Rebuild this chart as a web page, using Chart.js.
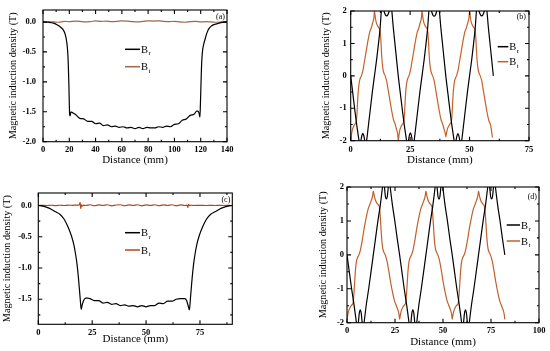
<!DOCTYPE html>
<html><head><meta charset="utf-8">
<script src="https://cdn.jsdelivr.net/npm/chart.js@4.4.0/dist/chart.umd.min.js"></script>
<style>
html,body{margin:0;padding:0;background:#fff;}
#wrap{position:relative;width:550px;height:351px;overflow:hidden;background:#fff;}
.p{position:absolute;}
</style></head><body>
<div id="wrap">
<div class="p" style="left:0;top:0"><canvas id="ca" width="275" height="175"></canvas></div>
<div class="p" style="left:275px;top:0"><canvas id="cb" width="275" height="175"></canvas></div>
<div class="p" style="left:0;top:175px"><canvas id="cc" width="275" height="176"></canvas></div>
<div class="p" style="left:275px;top:175px"><canvas id="cd" width="275" height="176"></canvas></div>
</div>
<script>
// ---------- tick labels ----------
const aXTicks = [0,20,40,60,80,100,120,140];
const aYTicks = [-2.0,-1.5,-1.0,-0.5,0.0];
const bXTicks = [0,25,50,75];
const bYTicks = [-2,-1,0,1,2];
const cXTicks = [0,25,50,75];
const cYTicks = [-1.5,-1.0,-0.5,0.0];
const dXTicks = [0,25,50,75,100];
const dYTicks = [-2,-1,0,1,2];
const seriesSubs = ['r','t'];
const xTitleText = 'Distance (mm)';
const yTitleText = 'Magnetic induction density (T)';
const panelTags = ['(a)','(b)','(c)','(d)'];

// ---------- (a) ----------
const aBrX = [0,4,8,11,13,15,16.5,17.5,18.2,18.8,19.3,19.7,20,20.3,20.6,21.3,22,25,28,31,34,37,40,43,46,49,52,55,58,61,64,67,70,73,76,79,82,85,88,91,94,97,100,103,106,109,112,115,117,118,118.8,119.4,119.8,120.2,120.6,121.2,122.2,123.4,124.6,126,128,130,134,137,140];
const aBrY = [0,-0.005,-0.02,-0.05,-0.08,-0.12,-0.18,-0.26,-0.36,-0.5,-0.75,-1.05,-1.35,-1.55,-1.57,-1.5,-1.51,-1.55,-1.61,-1.62,-1.66,-1.66,-1.7,-1.69,-1.73,-1.72,-1.75,-1.74,-1.76,-1.75,-1.77,-1.76,-1.78,-1.76,-1.78,-1.76,-1.77,-1.77,-1.75,-1.76,-1.74,-1.75,-1.71,-1.7,-1.64,-1.62,-1.56,-1.54,-1.49,-1.49,-1.53,-1.59,-1.35,-1.05,-0.75,-0.52,-0.38,-0.28,-0.19,-0.12,-0.07,-0.045,-0.02,-0.008,0];
const aBtX = [0,4,8,12,16,20,24,28,32,36,40,44,48,52,56,60,64,68,72,76,80,84,88,92,96,100,104,108,112,116,120,124,128,132,136,140];
const aBtY = [0,0.005,0,-0.005,0.01,0.005,0.015,0.01,0.0,0.005,0.02,0.01,0.015,0.005,0.01,0.02,0.015,0.005,0.0,0.01,0.02,0.015,0.02,0.01,0.005,0.01,0.0,-0.005,0.005,0.01,0.0,0.005,0.0,-0.005,0.0,0.005];

// ---------- (b) ----------
const bBrX = [0,0.9,1.8,2.6,3.5,3.9,4.3,4.7,5.1,5.5,5.9,6.3,6.7,7.5,8.3,9.1,10,10.9,11.7,12.4,12.9,13.4,14,14.6,15.1,15.6,16.2,16.8,17.3,17.9,18.6,19.3,
20,20.9,21.8,22.6,23.5,23.9,24.3,24.7,25.1,25.5,25.9,26.3,26.7,27.5,28.3,29.1,30,30.9,31.7,32.4,32.9,33.4,34,34.6,35.1,35.6,36.2,36.8,37.3,37.9,38.6,39.3,
40,40.9,41.8,42.6,43.5,43.9,44.3,44.7,45.1,45.5,45.9,46.3,46.7,47.5,48.3,49.1,50,50.9,51.7,52.4,52.9,53.4,54,54.6,55.1,55.6,56.2,56.8,57.3,57.9,58.6,59.3,60];
const bBrY = [0,-0.55,-1.1,-1.55,-2.0,-2.2,-2.0,-1.84,-1.77,-1.84,-2.0,-2.2,-2.0,-1.5,-1.0,-0.5,0,0.5,1.0,1.5,2.0,2.25,2.0,1.88,1.85,1.88,2.0,2.25,2.0,1.5,1.0,0.5,
0,-0.55,-1.1,-1.55,-2.0,-2.2,-2.0,-1.83,-1.76,-1.83,-2.0,-2.2,-2.0,-1.5,-1.0,-0.5,0,0.5,1.0,1.5,2.0,2.25,2.0,1.87,1.84,1.87,2.0,2.25,2.0,1.5,1.0,0.5,
0,-0.55,-1.1,-1.55,-2.0,-2.2,-2.0,-1.85,-1.78,-1.85,-2.0,-2.2,-2.0,-1.5,-1.0,-0.5,0,0.5,1.0,1.5,2.0,2.25,2.0,1.88,1.85,1.88,2.0,2.25,2.0,1.5,1.0,0.5,0];
const bBtX = [0,0.35,0.7,1.15,1.6,2.05,2.35,2.65,2.9,3.2,3.6,4.0,4.5,5.1,5.8,6.6,7.3,8.0,8.4,8.75,9.1,9.5,9.8,10,10.35,10.7,11.15,11.6,12.05,12.35,12.65,12.9,13.2,13.6,14.0,14.5,15.1,15.8,16.6,17.3,18.0,18.4,18.75,19.1,19.5,19.8,
20,20.35,20.7,21.15,21.6,22.05,22.35,22.65,22.9,23.2,23.6,24.0,24.5,25.1,25.8,26.6,27.3,28.0,28.4,28.75,29.1,29.5,29.8,30,30.35,30.7,31.15,31.6,32.05,32.35,32.65,32.9,33.2,33.6,34.0,34.5,35.1,35.8,36.6,37.3,38.0,38.4,38.75,39.1,39.5,39.8,
40,40.35,40.7,41.15,41.6,42.05,42.35,42.65,42.9,43.2,43.6,44.0,44.5,45.1,45.8,46.6,47.3,48.0,48.4,48.75,49.1,49.5,49.8,50,50.35,50.7,51.15,51.6,52.05,52.35,52.65,52.9,53.2,53.6,54.0,54.5,55.1,55.8,56.6,57.3,58.0,58.4,58.75,59.1,59.6];
const bBtY = [-2.0,-1.8,-1.66,-1.57,-1.51,-1.46,-1.4,-1.15,-0.8,-0.45,-0.2,-0.08,0,0.15,0.45,0.8,1.1,1.35,1.43,1.5,1.6,1.7,1.82,2.0,1.8,1.66,1.57,1.51,1.46,1.4,1.15,0.8,0.45,0.2,0.08,0,-0.15,-0.45,-0.8,-1.1,-1.35,-1.43,-1.5,-1.6,-1.7,-1.82,
-2.0,-1.8,-1.66,-1.57,-1.51,-1.46,-1.4,-1.15,-0.8,-0.45,-0.2,-0.08,0,0.15,0.45,0.8,1.1,1.35,1.43,1.5,1.6,1.7,1.82,2.0,1.8,1.66,1.57,1.51,1.46,1.4,1.15,0.8,0.45,0.2,0.08,0,-0.15,-0.45,-0.8,-1.1,-1.35,-1.43,-1.5,-1.6,-1.7,-1.78,
-1.88,-1.74,-1.63,-1.56,-1.5,-1.45,-1.4,-1.15,-0.8,-0.45,-0.2,-0.08,0,0.15,0.45,0.8,1.1,1.35,1.43,1.5,1.6,1.7,1.82,2.0,1.8,1.66,1.57,1.51,1.46,1.4,1.15,0.8,0.45,0.2,0.08,0,-0.15,-0.45,-0.8,-1.1,-1.35,-1.43,-1.5,-1.62,-1.9];

// ---------- (c) ----------
const cBrX = [0,2,4,6,8,10,12,14,15.5,16.5,17.3,18,18.6,19.1,19.5,19.9,20.3,21,22,23,24,26,28,30,32,34,36,38,40,42,44,46,48,50,52,54,56,58,60,62,64,66,67,68,68.8,69.5,70.1,70.5,70.9,71.4,72,72.7,73.5,74.5,76,78,80,82,84,86,88,90];
const cBrY = [0,-0.01,-0.03,-0.06,-0.1,-0.14,-0.22,-0.36,-0.5,-0.63,-0.78,-0.95,-1.15,-1.35,-1.52,-1.66,-1.6,-1.52,-1.48,-1.48,-1.49,-1.52,-1.52,-1.56,-1.55,-1.58,-1.57,-1.6,-1.59,-1.61,-1.6,-1.62,-1.6,-1.62,-1.6,-1.6,-1.56,-1.57,-1.53,-1.53,-1.5,-1.49,-1.49,-1.49,-1.52,-1.6,-1.67,-1.52,-1.35,-1.15,-0.95,-0.78,-0.63,-0.5,-0.36,-0.22,-0.14,-0.1,-0.06,-0.03,-0.01,0];
const cBtX = [0,2,4,6,8,10,12,14,16,18,19,19.4,19.7,20,20.4,21,22,24,26,28,30,32,34,36,38,40,42,44,46,48,50,52,54,56,58,60,62,64,66,68,69,69.4,69.7,70,71,72,74,76,78,80,82,84,86,88,90];
const cBtY = [0,0.002,0,0.004,-0.002,0.004,0,0.005,0.003,0.006,0.01,0.05,-0.05,0.01,-0.01,0.006,0.0,0.012,-0.004,0.01,0.0,0.012,-0.005,0.008,0.012,-0.004,0.01,0.0,0.012,-0.005,0.01,0.0,0.012,-0.004,0.01,0.0,0.012,-0.005,0.01,0.0,0.005,-0.03,0.02,0,0.004,0,0.003,0.002,0,0.002,0,0.001,0,0.001,0];

// ---------- (d) ----------
const dBrX = [0,1.2,2.4,3.6,4.9,5.4,5.9,6.4,6.9,7.4,7.9,8.4,8.9,10.1,11.3,12.5,13.7,14.9,16.1,17.3,18.5,19.0,19.5,20.0,20.5,21.0,21.5,22.0,22.5,23.7,24.9,26.1,
27.4,28.6,29.8,31.0,32.3,32.8,33.3,33.8,34.3,34.8,35.3,35.8,36.3,37.5,38.7,39.9,41.1,42.3,43.5,44.7,45.9,46.4,46.9,47.4,47.9,48.4,48.9,49.4,49.9,51.1,52.3,53.5,
54.8,56.0,57.2,58.4,59.7,60.2,60.7,61.2,61.7,62.2,62.7,63.2,63.7,64.9,66.1,67.3,68.5,69.7,70.9,72.1,73.3,73.8,74.3,74.8,75.3,75.8,76.3,76.8,77.3,78.5,79.7,80.9,82.2];
const dBrY = [0,-0.5,-1.0,-1.45,-2.0,-2.25,-2.0,-1.72,-1.62,-1.72,-2.0,-2.25,-2.0,-1.45,-1.0,-0.5,0,0.5,1.0,1.45,2.0,2.25,2.0,1.72,1.65,1.72,2.0,2.25,2.0,1.45,1.0,0.5,
0,-0.5,-1.0,-1.45,-2.0,-2.25,-2.0,-1.72,-1.62,-1.72,-2.0,-2.25,-2.0,-1.45,-1.0,-0.5,0,0.5,1.0,1.45,2.0,2.25,2.0,1.72,1.64,1.72,2.0,2.25,2.0,1.45,1.0,0.5,
0,-0.5,-1.0,-1.45,-2.0,-2.25,-2.0,-1.72,-1.62,-1.72,-2.0,-2.25,-2.0,-1.45,-1.0,-0.5,0,0.5,1.0,1.45,2.0,2.25,2.0,1.72,1.65,1.72,2.0,2.25,2.0,1.45,1.0,0.5,0];
const dBtX = [0,0.5,1,1.6,2.2,2.8,3.2,3.6,4.0,4.4,4.9,5.5,6.2,7,8,9,10,11,11.5,12,12.5,13,13.4,13.7,14.2,14.7,15.3,15.9,16.5,16.9,17.3,17.7,18.1,18.6,19.2,19.9,20.7,21.7,22.7,23.7,24.7,25.2,25.7,26.2,26.7,27.1,
27.4,27.9,28.4,29.0,29.6,30.2,30.6,31.0,31.4,31.8,32.3,32.9,33.6,34.4,35.4,36.4,37.4,38.4,38.9,39.4,39.9,40.4,40.8,41.1,41.6,42.1,42.7,43.3,43.9,44.3,44.7,45.1,45.5,46.0,46.6,47.3,48.1,49.1,50.1,51.1,52.1,52.6,53.1,53.6,54.1,54.5,
54.8,55.3,55.8,56.4,57.0,57.6,58.0,58.4,58.8,59.2,59.7,60.3,61.0,61.8,62.8,63.8,64.8,65.8,66.3,66.8,67.3,67.8,68.2,68.5,69.0,69.5,70.1,70.7,71.3,71.7,72.1,72.5,72.9,73.4,74.0,74.7,75.5,76.5,77.5,78.5,79.5,80.0,80.5,81.0,81.5,81.9,82.2];
const dBtY = [-1.9,-1.74,-1.63,-1.55,-1.5,-1.46,-1.4,-1.15,-0.8,-0.45,-0.2,-0.08,0,0.15,0.45,0.8,1.1,1.35,1.43,1.5,1.58,1.66,1.76,1.88,1.74,1.63,1.55,1.5,1.46,1.4,1.15,0.8,0.45,0.2,0.08,0,-0.15,-0.45,-0.8,-1.1,-1.35,-1.43,-1.5,-1.58,-1.66,-1.76,
-1.9,-1.74,-1.63,-1.55,-1.5,-1.46,-1.4,-1.15,-0.8,-0.45,-0.2,-0.08,0,0.15,0.45,0.8,1.1,1.35,1.43,1.5,1.58,1.66,1.76,1.88,1.74,1.63,1.55,1.5,1.46,1.4,1.15,0.8,0.45,0.2,0.08,0,-0.15,-0.45,-0.8,-1.1,-1.35,-1.43,-1.5,-1.58,-1.66,-1.76,
-1.9,-1.74,-1.63,-1.55,-1.5,-1.46,-1.4,-1.15,-0.8,-0.45,-0.2,-0.08,0,0.15,0.45,0.8,1.1,1.35,1.43,1.5,1.58,1.66,1.76,1.88,1.74,1.63,1.55,1.5,1.46,1.4,1.15,0.8,0.45,0.2,0.08,0,-0.15,-0.45,-0.8,-1.1,-1.35,-1.43,-1.5,-1.58,-1.66,-1.76,-1.9];

// ---------- drawing ----------
const FONT = '"Liberation Serif","Times New Roman",serif';
const pts = (xs, ys) => xs.map((x, i) => ({x: x, y: ys[i]}));

const framePlugin = {
  id: 'frame',
  afterDatasetsDraw(chart, args, o) {
    const {ctx, chartArea: ca, scales: {x, y}} = chart;
    ctx.save();
    ctx.strokeStyle = '#000';
    ctx.lineWidth = 1.1;
    ctx.strokeRect(ca.left, ca.top, ca.right - ca.left, ca.bottom - ca.top);
    const minors = (maj, mn, mx) => {
      const st = maj[1] - maj[0], out = [];
      for (let v = maj[0] - st / 2; v >= mn - 1e-9; v -= st) out.push(v);
      for (let i = 0; i < maj.length - 1; i++) out.push((maj[i] + maj[i + 1]) / 2);
      for (let v = maj[maj.length - 1] + st / 2; v <= mx + 1e-9; v += st) out.push(v);
      return out;
    };
    ctx.beginPath();
    const tx = (v, L) => { const p = x.getPixelForValue(v); ctx.moveTo(p, ca.bottom); ctx.lineTo(p, ca.bottom - L); ctx.moveTo(p, ca.top); ctx.lineTo(p, ca.top + L); };
    const ty = (v, L) => { const p = y.getPixelForValue(v); ctx.moveTo(ca.left, p); ctx.lineTo(ca.left + L, p); ctx.moveTo(ca.right, p); ctx.lineTo(ca.right - L, p); };
    o.xT.forEach(v => tx(v, 4));
    minors(o.xT, x.min, x.max).forEach(v => tx(v, 2));
    o.yT.forEach(v => ty(v, 4));
    minors(o.yT, y.min, y.max).forEach(v => ty(v, 2));
    ctx.stroke();
    ctx.restore();
  }
};

const legendPlugin = {
  id: 'subLegend',
  afterDraw(chart, args, o) {
    const {ctx, chartArea: ca} = chart;
    ctx.save();
    chart.data.datasets.forEach((ds, i) => {
      const yy = ca.top + o.dy + i * o.gap;
      const x0 = ca.left + o.dx;
      ctx.strokeStyle = ds.borderColor; ctx.lineWidth = 1.5;
      ctx.beginPath(); ctx.moveTo(x0, yy); ctx.lineTo(x0 + o.len, yy); ctx.stroke();
      ctx.fillStyle = '#000'; ctx.textAlign = 'left'; ctx.textBaseline = 'middle';
      ctx.font = '10.5px ' + FONT;
      ctx.fillText('B', x0 + o.len + 1, yy + 1);
      const w = ctx.measureText('B').width;
      ctx.font = '7px ' + FONT;
      ctx.fillText(seriesSubs[i], x0 + o.len + 1.5 + w, yy + 4);
    });
    ctx.font = '8px ' + FONT; ctx.textAlign = 'right'; ctx.textBaseline = 'middle'; ctx.fillStyle = '#000';
    ctx.fillText(o.tag, ca.right + o.tagDx, ca.top + o.tagDy);
    ctx.restore();
  }
};

function fmt(dec) {
  return v => (v < 0 ? '-' : '') + Math.abs(v).toFixed(dec);
}

function makeChart(p) {
  const tickFont = {family: FONT, size: 8.5, weight: 'bold'};
  return new Chart(document.getElementById(p.id), {
    type: 'line',
    data: {datasets: p.sets.map(s => ({
      label: s.label, data: s.data, borderColor: s.color, borderWidth: 1.2,
      pointRadius: 0, cubicInterpolationMode: 'monotone', clip: 0, fill: false
    }))},
    options: {
      responsive: false, animation: false, devicePixelRatio: 1,
      layout: {padding: {left: 0, top: p.padTop, right: p.padRight, bottom: 0}},
      plugins: {
        legend: {display: false}, tooltip: {enabled: false},
        frame: {xT: p.xT, yT: p.yT},
        subLegend: p.leg
      },
      scales: {
        x: {
          type: 'linear', min: p.xr[0], max: p.xr[1],
          grid: {display: false, drawTicks: false, tickLength: 0}, border: {display: false},
          ticks: {font: tickFont, color: '#000', padding: p.xTick, maxRotation: 0, autoSkip: false,
                  callback: v => String(v)},
          title: {display: true, text: xTitleText, color: '#000', font: {family: FONT, size: 11},
                  padding: {top: 0, bottom: p.xTitle}},
          afterBuildTicks: s => { s.ticks = p.xT.map(v => ({value: v})); },
          afterFit: s => { s.height = p.xH; s.paddingLeft = 0; s.paddingRight = 0; s.paddingTop = 0; s.paddingBottom = 0; }
        },
        y: {
          type: 'linear', min: p.yr[0], max: p.yr[1],
          grid: {display: false, drawTicks: false, tickLength: 0}, border: {display: false},
          ticks: {font: tickFont, color: '#000', padding: p.yTick, autoSkip: false, callback: fmt(p.dec)},
          title: {display: true, text: yTitleText, color: '#000', font: {family: FONT, size: 10.2},
                  padding: {top: p.yTitle, bottom: 0}},
          afterBuildTicks: s => { s.ticks = p.yT.map(v => ({value: v})); },
          afterFit: s => { s.width = p.yW; s.paddingLeft = 0; s.paddingRight = 0; s.paddingTop = 0; s.paddingBottom = 0; }
        }
      }
    },
    plugins: [framePlugin, legendPlugin]
  });
}

makeChart({id: 'ca', xr: [0, 140], yr: [-2, 0.2], xT: aXTicks, yT: aYTicks, dec: 1,
  padTop: 10, padRight: 48, yW: 43, xH: 33.3, yTick: 7, xTick: 3, yTitle: 7, xTitle: 8.4,
  sets: [{label: 'Br', data: pts(aBrX, aBrY), color: '#000000'},
         {label: 'Bt', data: pts(aBtX, aBtY), color: '#a0664a'}],
  leg: {dx: 82, dy: 39.3, gap: 17.4, len: 15, tag: panelTags[0], tagDx: -2, tagDy: 6.7}});

makeChart({id: 'cb', xr: [0, 75], yr: [-2, 2], xT: bXTicks, yT: bYTicks, dec: 0,
  padTop: 11, padRight: 21, yW: 75.7, xH: 34.3, yTick: 4, xTick: 3.7, yTitle: 45, xTitle: 8.4,
  sets: [{label: 'Br', data: pts(bBrX, bBrY), color: '#000000'},
         {label: 'Bt', data: pts(bBtX, bBtY), color: '#c4622a'}],
  leg: {dx: 147, dy: 35.7, gap: 15, len: 10.6, tag: panelTags[1], tagDx: -3, tagDy: 5.7}});

makeChart({id: 'cc', xr: [0, 90], yr: [-1.9, 0.2], xT: cXTicks, yT: cYTicks, dec: 1,
  padTop: 18, padRight: 42.7, yW: 38.3, xH: 26.7, yTick: 6.6, xTick: 3, yTitle: 1.5, xTitle: 5.5,
  sets: [{label: 'Br', data: pts(cBrX, cBrY), color: '#000000'},
         {label: 'Bt', data: pts(cBtX, cBtY), color: '#b4461e'}],
  leg: {dx: 86.7, dy: 39.7, gap: 17.3, len: 15, tag: panelTags[2], tagDx: -2, tagDy: 7}});

makeChart({id: 'cd', xr: [0, 100], yr: [-2, 2], xT: dXTicks, yT: dYTicks, dec: 0,
  padTop: 12, padRight: 11, yW: 72, xH: 28.3, yTick: 3, xTick: 3.3, yTitle: 42, xTitle: 2.4,
  sets: [{label: 'Br', data: pts(dBrX, dBrY), color: '#000000'},
         {label: 'Bt', data: pts(dBtX, dBtY), color: '#c0602c'}],
  leg: {dx: 159.7, dy: 38, gap: 16, len: 13.3, tag: panelTags[3], tagDx: -2, tagDy: 9.7}});
</script>
</body></html>
